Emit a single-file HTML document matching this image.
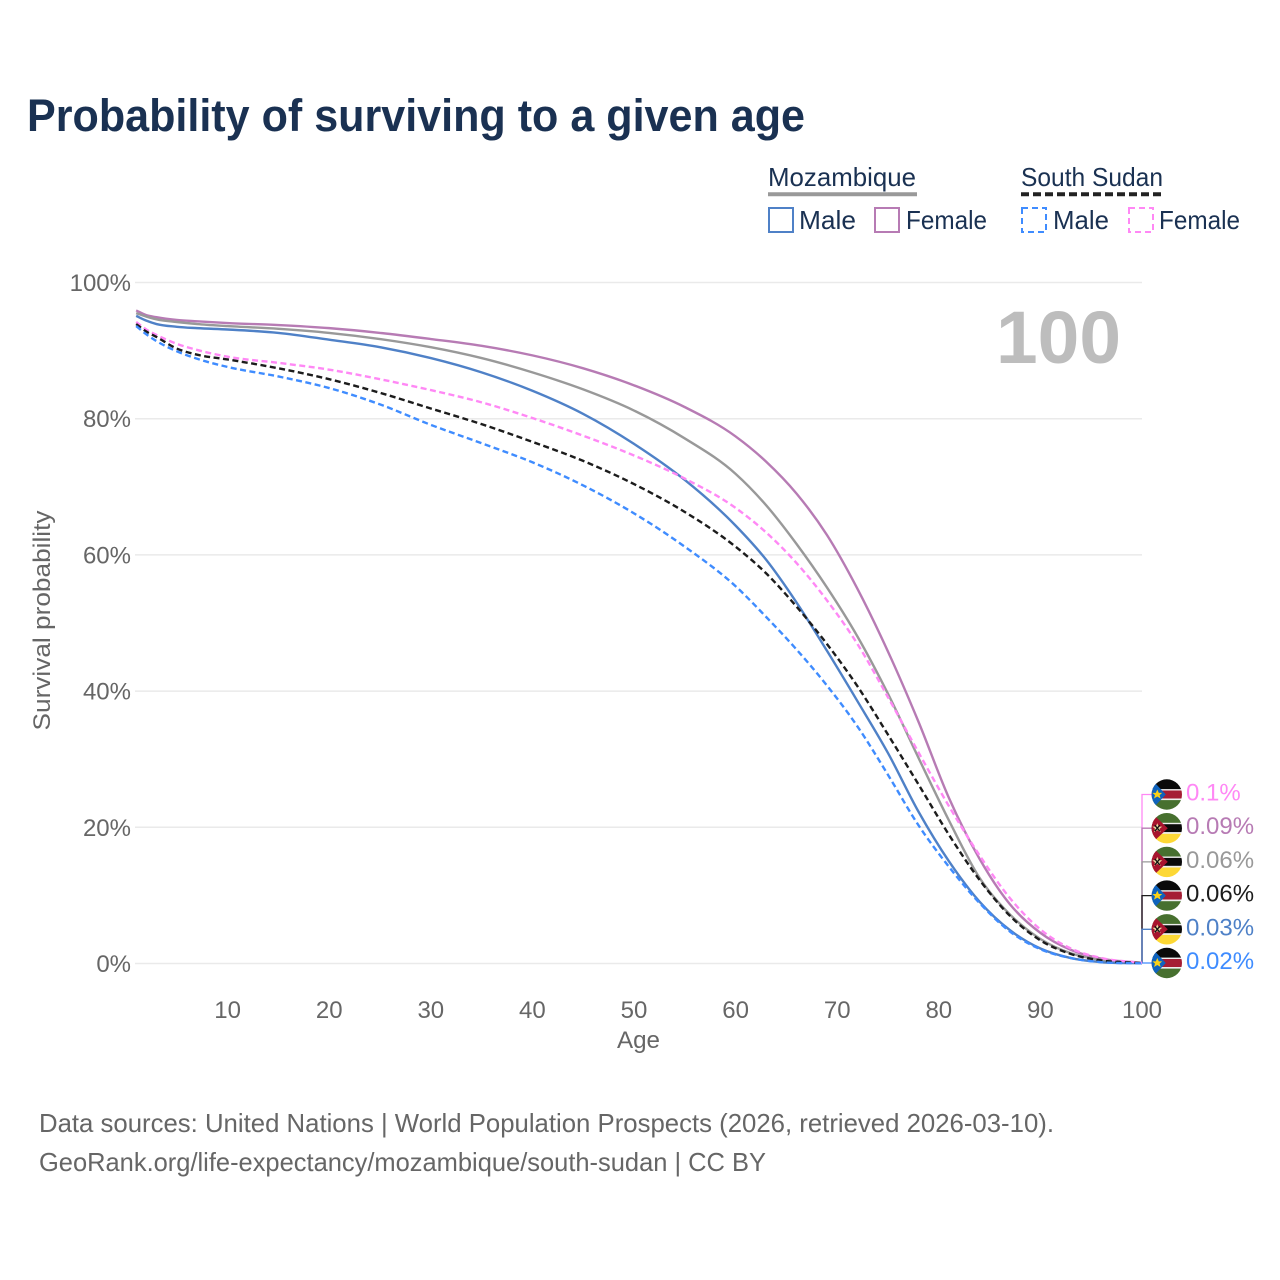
<!DOCTYPE html>
<html lang="en">
<head>
<meta charset="utf-8">
<title>Probability of surviving to a given age</title>
<style>
html,body{margin:0;padding:0;background:#fff}
svg{display:block}
text{font-family:"Liberation Sans",sans-serif}
</style>
</head>
<body>
<svg id="chart" xmlns="http://www.w3.org/2000/svg" width="1280" height="1280" viewBox="0 0 1280 1280">
<defs>
<clipPath id="flag-clip"><circle cx="0" cy="0" r="15.2"/></clipPath>
<g id="flag-ss" clip-path="url(#flag-clip)">
<rect x="-16" y="-16" width="32" height="11" fill="#0a0a0a"/>
<rect x="-16" y="-5.4" width="32" height="1.6" fill="#eee"/>
<rect x="-16" y="-4" width="32" height="8" fill="#a51d34"/>
<rect x="-16" y="4" width="32" height="1.8" fill="#eee"/>
<rect x="-16" y="5.6" width="32" height="11" fill="#47702f"/>
<polygon points="-16,-16 -1,0 -16,16" fill="#0f63bd"/>
<polygon points="-9.5,-5 -8,-1.6 -4.6,-1.6 -7.2,0.6 -6.2,4 -9.5,2 -12.8,4 -11.8,0.6 -14.4,-1.6 -11,-1.6" fill="#fcd116"/>
</g>
<g id="flag-mz" clip-path="url(#flag-clip)">
<rect x="-16" y="-16" width="32" height="11" fill="#47702f"/>
<rect x="-16" y="-5.4" width="32" height="1.6" fill="#eee"/>
<rect x="-16" y="-4" width="32" height="8" fill="#0a0a0a"/>
<rect x="-16" y="4" width="32" height="1.8" fill="#eee"/>
<rect x="-16" y="5.6" width="32" height="11" fill="#fdd835"/>
<polygon points="-16,-16 1,0 -16,16" fill="#a8142e"/>
<polygon points="-9.5,-5 -8,-1.6 -4.6,-1.6 -7.2,0.6 -6.2,4 -9.5,2 -12.8,4 -11.8,0.6 -14.4,-1.6 -11,-1.6" fill="#e8d9a0"/>
<path d="M-12-3L-7 3M-7-3L-12 3" stroke="#111" stroke-width="1.3"/>
</g>
</defs>

<text x="27" y="131" font-size="45" font-weight="700" fill="#1a3152" textLength="778" lengthAdjust="spacingAndGlyphs">Probability of surviving to a given age</text>

<g>
<text x="768" y="186" font-size="26" fill="#1a3152" textLength="148" lengthAdjust="spacingAndGlyphs">Mozambique</text>
<line x1="768" x2="917" y1="194.3" y2="194.3" stroke="#999" stroke-width="4"/>
<text x="1021" y="186" font-size="26" fill="#1a3152" textLength="142" lengthAdjust="spacingAndGlyphs">South Sudan</text>
<line x1="1021" x2="1163" y1="194.3" y2="194.3" stroke="#222" stroke-width="4" stroke-dasharray="8 4"/>

<rect x="769" y="208" width="24" height="24" fill="none" stroke="#4f81c7" stroke-width="2"/>
<text x="799" y="229" font-size="26" fill="#1a3152" textLength="57" lengthAdjust="spacingAndGlyphs">Male</text>
<rect x="875" y="208" width="24" height="24" fill="none" stroke="#b77bb4" stroke-width="2"/>
<text x="906" y="229" font-size="26" fill="#1a3152" textLength="81" lengthAdjust="spacingAndGlyphs">Female</text>
<rect x="1022" y="208" width="24" height="24" fill="none" stroke="#3f8cff" stroke-width="2" stroke-dasharray="6 4"/>
<text x="1053" y="229" font-size="26" fill="#1a3152" textLength="56" lengthAdjust="spacingAndGlyphs">Male</text>
<rect x="1129" y="208" width="24" height="24" fill="none" stroke="#ff88f5" stroke-width="2" stroke-dasharray="6 4"/>
<text x="1159" y="229" font-size="26" fill="#1a3152" textLength="81" lengthAdjust="spacingAndGlyphs">Female</text>
</g>

<g id="grid"></g>
<g id="yticks"></g>
<g id="xticks"></g>

<text transform="translate(50,620.5) rotate(-90)" text-anchor="middle" font-size="24" fill="#666" textLength="220" lengthAdjust="spacingAndGlyphs">Survival probability</text>
<text x="638.5" y="1048" text-anchor="middle" font-size="24" fill="#666" textLength="43" lengthAdjust="spacingAndGlyphs">Age</text>
<text x="1121" y="363" text-anchor="end" font-size="74" font-weight="700" fill="#bdbdbd" textLength="125" lengthAdjust="spacingAndGlyphs">100</text>

<g id="connectors"></g>
<g id="lines"></g>
<g id="endlabels"></g>

<text x="39" y="1132" font-size="26" fill="#666" textLength="1015" lengthAdjust="spacingAndGlyphs">Data sources: United Nations | World Population Prospects (2026, retrieved 2026-03-10).</text>
<text x="39" y="1171" font-size="26" fill="#666" textLength="727" lengthAdjust="spacingAndGlyphs">GeoRank.org/life-expectancy/mozambique/south-sudan | CC BY</text>
</svg>

<script>
const ages = [1,2,3,5,7,10,15,20,25,30,35,40,45,50,55,60,63,66,69,72,75,78,81,84,87,90,93,96,100];
const mozambiqueFemale = [95.9,95.2,94.9,94.5,94.3,94.05,93.75,93.3,92.6,91.7,90.7,89.3,87.4,84.9,81.7,77.4,73.7,69,62.9,55,45.8,35.5,24.3,15.4,8.7,4.5,2,0.7,0.09];
const mozambiqueBoth = [95.5,95,94.6,94.2,93.9,93.6,93.2,92.6,91.7,90.5,88.9,86.8,84.3,81.2,77.1,71.9,67.3,61.6,55.2,48,39.6,30.2,21,12.6,7.2,3.6,1.5,0.5,0.064];
const mozambiqueMale = [95.1,94.4,93.9,93.5,93.3,93.1,92.6,91.6,90.5,88.9,86.8,84.1,80.7,76.3,71,64.3,59.3,53,45.9,38.5,30.9,22.3,15,9.1,4.9,2.2,0.8,0.2,0.03];
const southSudanFemale = [94.2,93.1,92.3,91,90.1,89.1,88.2,87.2,85.8,84.2,82.4,80.1,77.5,74.6,71.2,66.9,63.3,58.8,53.3,46.9,39.1,31,23.1,15.9,9.6,5,2.2,0.8,0.1];
const southSudanBoth = [93.9,92.8,92,90.3,89.4,88.7,87.4,85.8,83.8,81.5,79.2,76.6,73.8,70.4,66.3,61.2,57.3,52.4,46.9,40.7,33.6,26.3,18.9,12.3,7,3.4,1.4,0.45,0.058];
const southSudanMale = [93.6,92.4,91.4,89.9,88.8,87.6,86.2,84.5,82.1,79.1,76.4,73.6,70.2,66.1,61.2,55.4,50.9,46.1,40.8,34.8,27.7,20.3,14.2,8.9,4.7,2.1,0.8,0.2,0.02];
const xTickLabels = [10,20,30,40,50,60,70,80,90,100];
const yTickLabels = [0,20,40,60,80,100];

const NS = 'http://www.w3.org/2000/svg';
const xScale = a => 1142 - (100 - a) * 10.16;
const yScale = v => 963.5 - v * 6.81;

function make(tag, attrs, parent) {
  const el = document.createElementNS(NS, tag);
  for (const k in attrs) el.setAttribute(k, attrs[k]);
  parent.appendChild(el);
  return el;
}

function smoothPath(xs, ys) {
  const n = xs.length;
  const d = [];
  for (let i = 0; i < n - 1; i++) d.push((ys[i + 1] - ys[i]) / (xs[i + 1] - xs[i]));
  const m = [d[0]];
  for (let i = 1; i < n - 1; i++) {
    const h0 = xs[i] - xs[i - 1], h1 = xs[i + 1] - xs[i];
    m.push((h0 * d[i] + h1 * d[i - 1]) / (h0 + h1));
  }
  m.push(d[n - 2]);
  let p = 'M' + xs[0].toFixed(2) + ' ' + ys[0].toFixed(2);
  for (let i = 0; i < n - 1; i++) {
    const h = xs[i + 1] - xs[i];
    p += 'C' + (xs[i] + h / 3).toFixed(2) + ' ' + (ys[i] + m[i] * h / 3).toFixed(2) + ' ' +
      (xs[i + 1] - h / 3).toFixed(2) + ' ' + (ys[i + 1] - m[i + 1] * h / 3).toFixed(2) + ' ' +
      xs[i + 1].toFixed(2) + ' ' + ys[i + 1].toFixed(2);
  }
  return p;
}

const gridG = document.getElementById('grid');
const yG = document.getElementById('yticks');
const xG = document.getElementById('xticks');
const lineG = document.getElementById('lines');
const connG = document.getElementById('connectors');
const endG = document.getElementById('endlabels');

yTickLabels.forEach(function (t) {
  const gl = make('line', {x1: 135, x2: 1142, y1: yScale(t), y2: yScale(t), stroke: '#eaeaea', 'stroke-width': 1.5}, gridG);
  
  
  const tx = make('text', {x: 131, y: yScale(t) + 8.5, 'text-anchor': 'end', 'font-size': 24, fill: '#666'}, yG);
  
  
  tx.textContent = t + '%';
});

xTickLabels.forEach(function (t) {
  const tx = make('text', {x: xScale(t), y: 1018, 'text-anchor': 'middle', 'font-size': 24, fill: '#666'}, xG);
  
  
  tx.textContent = t;
});

const series = [
  {key: 'mozambique-female', values: mozambiqueFemale, color: '#b77bb4', dash: null, flag: 'flag-mz'},
  {key: 'mozambique-both', values: mozambiqueBoth, color: '#999999', dash: null, flag: 'flag-mz'},
  {key: 'mozambique-male', values: mozambiqueMale, color: '#4f81c7', dash: null, flag: 'flag-mz'},
  {key: 'south-sudan-female', values: southSudanFemale, color: '#ff88f5', dash: '6 3.5', flag: 'flag-ss'},
  {key: 'south-sudan-both', values: southSudanBoth, color: '#1c1c1c', dash: '6 3.5', flag: 'flag-ss'},
  {key: 'south-sudan-male', values: southSudanMale, color: '#3f8cff', dash: '6 3.5', flag: 'flag-ss'}
];

series.forEach(function (s) {
  const xs = ages.map(xScale);
  const ys = s.values.map(yScale);
  const path = make('path', {d: smoothPath(xs, ys), fill: 'none', stroke: s.color, 'stroke-width': 2.4, 'stroke-linejoin': 'round'}, lineG);
  if (s.dash) path.setAttribute('stroke-dasharray', s.dash);
  
  
});

const ranked = series.slice().sort(function (a, b) {
  return b.values[b.values.length - 1] - a.values[a.values.length - 1];
});
const count = ranked.length;
ranked.forEach(function (s, i) {
  const last = s.values[s.values.length - 1];
  const ly = 963 - (count - 1 - i) * 33.7;
  const vy = yScale(last);
  const conn = make('path', {d: 'M1142 ' + vy.toFixed(2) + 'V' + ly.toFixed(2) + 'H1152', fill: 'none', stroke: s.color, 'stroke-width': 1.3}, connG);
  
  
  const flag = make('use', {href: '#' + s.flag, x: 1166.8, y: ly}, endG);
  
  
  const label = make('text', {x: 1186, y: ly + 6, 'font-size': 24, fill: s.color}, endG);
  
  
  label.textContent = Number(last.toFixed(2)) + '%';
});
</script>
</body>
</html>
